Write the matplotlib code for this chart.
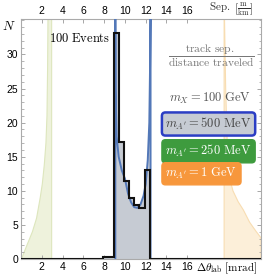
import matplotlib
matplotlib.use("Agg")
import matplotlib.pyplot as plt
import numpy as np

plt.rcParams['mathtext.fontset'] = 'cm'
plt.rcParams['font.family'] = ['Liberation Sans', 'DejaVu Sans']

# histogram (100 events), bin edges in mrad
hist_edges = [0, 7.9, 8.95, 9.42, 9.92, 10.42, 10.92, 11.38, 11.92, 12.4, 23.1]
hist_counts = [0, 0.3, 33.2, 17.2, 11.5, 8.9, 7.9, 7.5, 13.0, 0]

# blue curve, m_A' = 500 MeV
blue_x = [9.08, 9.08, 9.1, 9.2, 9.4, 9.7, 10.0, 10.3, 10.6, 10.9, 11.2, 11.5, 11.8, 12.0, 12.2, 12.35, 12.42, 12.47, 12.47]
blue_y = [0, 36, 25, 18, 15, 13, 11.8, 9.6, 8.3, 7.6, 7.5, 8.0, 9.3, 11, 14.5, 20, 28, 36, 0]

# green curve, m_A' = 250 MeV
green_x = [0.05, 0.3, 0.7, 1.1, 1.5, 1.85, 2.05, 2.24, 2.4, 2.5, 2.56, 2.6]
green_y = [0, 1, 2.5, 4, 6, 9, 11, 13.8, 17, 21, 28, 36]
green_edge = 2.95

# orange curve, m_A' = 1 GeV
orange_x = [19.58, 19.7, 19.85, 20.05, 20.4, 20.9, 21.4, 22.0, 22.6, 23.1]
orange_y = [36, 25, 17, 12, 10, 8.4, 7.2, 5.4, 4.1, 3.1]
orange_edge = 19.55

xmax = 23.1
ymax = 35.2

fig = plt.figure(figsize=(2.66, 2.79), dpi=100)
ax = fig.add_axes([21/266, 20/279, 240/266, 240/279])

# green region
gx = green_x + [green_edge, green_edge]
gy = green_y + [ymax + 1, 0]
ax.fill(gx, gy, facecolor='#eef2dc', edgecolor='#dde6bd', lw=0.8, zorder=1)

# orange region
ox = [orange_edge, orange_edge] + orange_x + [xmax]
oy = [0, ymax + 1] + orange_y + [0]
ax.fill(ox, oy, facecolor='#fcefd9', edgecolor='#f8ddb2', lw=0.8, zorder=1)

# blue region
ax.fill(blue_x, blue_y, facecolor='#c6cbd3', edgecolor='none', zorder=2)
ax.stairs(hist_counts, hist_edges, fill=True, color='#c6cbd3', zorder=2)
ax.plot(blue_x, blue_y, color='#5378b8', lw=1.4, zorder=3)
ax.stairs(hist_counts, hist_edges, color='#111111', lw=1.5, zorder=4)

ax.set_xlim(0, xmax)
ax.set_ylim(0, ymax)

ax.set_xticks(range(2, 17, 2))
ax.set_yticks(range(0, 31, 5))
ax.set_yticks(range(0, 36, 1), minor=True)
ax.tick_params(axis='both', which='both', direction='in', labelsize=7.5,
               color='#999999', top=True, right=True, labeltop=True)
ax.tick_params(axis='both', which='major', length=3, width=0.6, pad=2)
ax.tick_params(axis='y', which='minor', length=1.8, width=0.5)
ax.tick_params(axis='x', which='minor', top=False, bottom=False)
for s in ax.spines.values():
    s.set_color('#aaaaaa')
    s.set_linewidth(0.8)

ax.text(-0.05, 0.967, r'$N$', transform=ax.transAxes, fontsize=9.5,
        ha='center', va='center')
ax.text(0.875, 1.042, r'$\mathrm{Sep.}\ \left[\frac{\mathrm{m}}{\mathrm{km}}\right]$',
        transform=ax.transAxes, fontsize=8, ha='center', va='center', color='#333333')
ax.text(0.855, -0.037, r'$\Delta\theta_{\mathrm{lab}}\ [\mathrm{mrad}]$',
        transform=ax.transAxes, fontsize=8, ha='center', va='center')

ax.text(5.6, 32.4, r'$\mathrm{100\ Events}$', fontsize=9, ha='center', va='center')
ax.text(18.3, 29.8, r'$\dfrac{\mathrm{track\ sep.}}{\mathrm{distance\ traveled}}$',
        fontsize=8.3, ha='center', va='center', color='#777777')
ax.text(18.2, 23.5, r'$m_X = 100\ \mathrm{GeV}$', fontsize=9, ha='center', va='center',
        color='#555555')

ax.text(13.9, 19.8, r"$m_{A'} = 500\ \mathrm{MeV}$", fontsize=9, ha='left', va='center',
        color='#444444', zorder=6,
        bbox=dict(boxstyle='round,pad=0.28', facecolor='#c6cbd3', edgecolor='#2b3ec4', lw=1.8))
ax.text(13.9, 15.8, r"$m_{A'} = 250\ \mathrm{MeV}$", fontsize=9, ha='left', va='center',
        color='white', zorder=6,
        bbox=dict(boxstyle='round,pad=0.28', facecolor='#3e9b3e', edgecolor='#3e9b3e', lw=1))
ax.text(13.9, 12.5, r"$m_{A'} = 1\ \mathrm{GeV}$", fontsize=9, ha='left', va='center',
        color='white', zorder=6,
        bbox=dict(boxstyle='round,pad=0.28', facecolor='#f7973c', edgecolor='#f7973c', lw=1))

fig.savefig('out.png', dpi=100)
